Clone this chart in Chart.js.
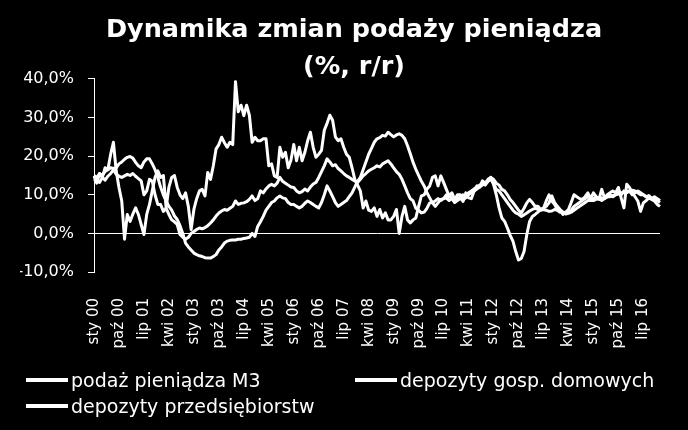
<!DOCTYPE html>
<html lang="pl">
<head>
<meta charset="utf-8">
<script src="https://cdn.jsdelivr.net/npm/chart.js@4.4.1/dist/chart.umd.min.js"></script>
<style>
  html, body { margin: 0; padding: 0; background: #000; }
  #wrap { position: relative; width: 688px; height: 430px; }
  #legenda { position: absolute; left: 0; top: 0; width: 688px; height: 430px; pointer-events: none;
             font-family: "DejaVu Sans", sans-serif; font-size: 19px; color: #fff; }
  .poz { position: absolute; display: flex; align-items: center; white-space: nowrap; }
  .kreska { display: inline-block; width: 42px; height: 4px; background: #fff; margin-right: 3px; }
</style>
</head>
<body>
<div id="wrap">
  <canvas id="wykres" width="688" height="430"></canvas>
  <div id="legenda"></div>
</div>
<script>
// miesiące (etykiety osi X)
const miesiace = ['sty', 'lut', 'mar', 'kwi', 'maj', 'cze', 'lip', 'sie', 'wrz', 'paź', 'lis', 'gru'];
const rokStart = 2000;
const liczbaMiesiecy = 205; // sty 00 - sty 17

// podaż pieniądza M3, % r/r
const podazM3 = [
  13.5, 14.0, 13.2, 14.5, 13.8, 14.8, 15.5, 16.5, 15.3, 14.8, 14.5, 14.9,
  15.3, 15.0, 15.5, 14.8, 14.2, 13.6, 10.0, 11.0, 14.0, 13.5, 10.0, 7.5,
  7.5, 5.7, 6.5, 4.9, 3.5, 3.0, 2.3, -0.3, -1.0, -1.5, -1.0, 0.0,
  0.5, 1.0, 1.4, 1.2, 1.5, 2.0, 2.7, 3.5, 4.5, 5.3, 5.8, 6.2,
  6.0, 6.5, 7.0, 8.4, 7.5, 7.8, 7.9, 8.2, 8.8, 9.7, 8.5, 9.0,
  11.0, 10.5, 11.5, 12.3, 12.7, 12.3, 13.0, 14.5, 13.5, 13.0, 12.5, 12.0,
  11.9, 11.0, 10.5, 10.8, 11.5, 11.0, 12.0, 12.8, 13.2, 14.5, 16.0, 17.5,
  19.3, 18.5, 17.5, 17.8, 16.8, 16.2, 15.5, 14.9, 14.5, 14.0, 13.6, 13.2,
  14.0, 14.9, 15.5, 16.2, 16.6, 17.0, 17.5, 17.2, 18.0, 18.4, 18.8, 18.0,
  17.0, 16.0, 15.3, 14.0, 12.3, 10.5, 9.0, 8.4, 6.5, 6.0, 5.3, 5.5,
  6.5, 7.9, 8.0, 8.4, 9.0, 8.5, 9.0, 10.0, 9.5, 9.2, 8.8, 9.0,
  9.5, 10.0, 9.2, 10.5, 11.0, 11.5, 12.0, 12.5, 13.0, 12.5, 13.5, 14.5,
  14.0, 13.0, 12.5, 11.4, 11.0, 10.0, 8.8, 8.0, 7.0, 6.0, 5.3, 6.5,
  7.9, 8.8, 8.0, 7.0, 7.0, 6.2, 6.5, 7.0, 7.9, 9.7, 8.0, 7.0,
  6.2, 5.5, 5.3, 5.5, 6.0, 7.0, 7.5, 8.0, 8.5, 9.0, 9.5, 9.0,
  9.0, 9.5, 9.0, 8.5, 9.0, 9.5, 10.0, 9.5, 10.0, 10.5, 10.0, 11.0,
  10.5, 11.0, 10.0, 10.5, 11.0, 10.5, 10.0, 9.5, 9.8, 9.0, 9.5, 9.0,
  8.5
];

// depozyty gospodarstw domowych, % r/r
const depozytyGosp = [
  15.0, 14.5, 15.5, 15.0, 16.0, 16.5, 17.0, 16.8, 17.0, 18.0, 18.5, 19.2,
  19.7, 19.9, 19.5, 18.4, 17.5, 17.0, 18.5, 19.3, 19.3, 18.0, 16.5, 14.5,
  12.0, 10.0, 8.4, 7.0, 6.0, 4.5, 3.6, 2.0, 0.0, -2.5, -3.5, -4.3,
  -5.1, -5.5, -5.8, -6.0, -6.3, -6.4, -6.4, -6.0, -5.5, -4.3, -3.5, -2.5,
  -2.0, -1.8, -1.7, -1.7, -1.5, -1.5, -1.3, -1.2, -1.0, 0.0, -0.8, 1.8,
  3.0, 4.4, 6.0, 7.0, 8.0, 8.4, 9.2, 9.7, 9.2, 9.0, 8.0, 7.5,
  7.5, 7.0, 6.6, 7.0, 7.8, 8.4, 8.0, 7.5, 7.0, 6.6, 8.0, 10.0,
  12.3, 11.0, 9.5, 8.0, 7.0, 7.5, 8.0, 8.5, 9.5, 10.5, 12.0, 13.5,
  14.5, 16.5, 18.5, 20.5, 22.0, 23.6, 24.5, 24.8, 25.4, 25.2, 26.2, 25.6,
  25.0, 25.5, 25.8, 25.4, 24.5, 22.7, 20.6, 18.4, 16.6, 15.0, 13.5, 12.3,
  10.5, 9.2, 7.9, 7.0, 7.9, 8.8, 9.0, 9.2, 8.5, 9.0, 8.0, 8.5,
  9.0, 8.5, 9.5, 10.0, 10.5, 11.0, 11.5, 12.0, 12.5, 13.0, 13.5, 14.0,
  13.0, 11.4, 11.0, 10.0, 9.0, 8.0, 7.0, 6.0, 5.3, 5.0, 4.4, 4.8,
  5.3, 5.8, 6.2, 6.5, 6.2, 6.0, 6.2, 6.0, 5.7, 5.8, 6.2, 6.0,
  5.5, 5.5, 5.0, 5.2, 5.5, 6.0, 6.5, 7.0, 7.5, 8.0, 8.5, 8.5,
  8.5, 8.8, 9.0, 9.2, 9.0, 9.5, 9.5, 9.8, 10.0, 10.2, 10.5, 10.5,
  10.8, 11.0, 11.2, 11.0, 10.5, 10.0, 10.0, 9.5, 9.5, 9.2, 9.0, 8.5,
  8.0
];

// depozyty przedsiębiorstw, % r/r
const depozytyPrzeds = [
  14.9, 13.0, 15.5, 14.5, 17.0, 16.5, 20.5, 23.6, 16.2, 11.9, 8.4, -1.5,
  4.9, 3.1, 5.0, 6.6, 4.9, 2.3, -0.3, 4.9, 7.5, 11.0, 14.5, 16.2,
  14.5, 15.0, 6.6, 12.0, 14.5, 15.0, 11.9, 10.0, 9.0, 10.5, 7.0, 1.0,
  6.2, 9.0, 11.0, 11.4, 9.7, 15.8, 14.0, 17.5, 21.9, 23.0, 24.9, 23.5,
  22.3, 23.6, 23.0, 39.3, 31.5, 33.2, 30.5, 33.2, 30.6, 23.6, 24.9, 24.0,
  24.0, 24.5, 24.5, 17.5, 18.0, 14.9, 14.5, 22.3, 19.7, 21.0, 17.0, 19.0,
  23.0, 18.8, 22.3, 18.8, 21.0, 24.0, 26.2, 22.3, 19.7, 20.5, 21.5, 26.7,
  28.5, 30.6, 29.3, 25.0, 24.0, 24.5, 22.3, 20.5, 19.7, 17.0, 14.0, 12.5,
  11.0, 6.6, 8.4, 6.0, 5.7, 6.6, 4.4, 6.2, 4.0, 5.3, 3.5, 3.5,
  4.4, 6.2, 0.0, 4.4, 7.0, 3.5, 2.7, 3.5, 4.0, 7.0, 9.7, 10.0,
  11.5, 12.3, 14.5, 14.9, 12.3, 14.9, 13.2, 11.4, 9.7, 10.5, 8.8, 10.0,
  10.0, 8.3, 10.5, 9.2, 9.0, 11.0, 12.3, 12.0, 13.6, 13.0, 14.0, 14.5,
  12.7, 10.0, 6.6, 4.0, 3.1, 1.4, -0.5, -2.0, -4.7, -6.9, -6.5, -4.7,
  -0.3, 3.1, 4.4, 4.9, 5.5, 6.2, 6.5, 8.4, 10.0, 8.4, 7.5, 6.2,
  6.0, 4.9, 5.5, 6.2, 8.0, 10.0, 9.5, 9.0, 8.8, 9.5, 10.5, 9.0,
  10.5, 9.5, 8.8, 11.4, 9.2, 10.0, 10.5, 11.0, 10.5, 11.9, 9.2, 6.6,
  12.7, 11.9, 10.5, 9.5, 8.4, 5.7, 7.9, 8.5, 9.2, 8.8, 8.4, 7.5,
  7.0
];

const nazwySerii = ['podaż pieniądza M3', 'depozyty gosp. domowych', 'depozyty przedsiębiorstw'];
const krokEtykiet = 9; // co 9 miesięcy

// etykiety "sty 00", "lut 00", ...
const etykiety = [];
for (let i = 0; i < liczbaMiesiecy; i++) {
  const rok = (rokStart + Math.floor(i / 12)) % 100;
  etykiety.push(miesiace[i % 12] + ' ' + String(rok).padStart(2, '0'));
}

Chart.defaults.font.family = '"DejaVu Sans", sans-serif';
Chart.defaults.color = '#fff';

function seria(label, data) {
  return {
    label: label,
    data: data,
    borderColor: '#fff',
    backgroundColor: '#fff',
    borderWidth: 3,
    pointRadius: 0,
    tension: 0,
    borderJoinStyle: 'round'
  };
}

const wykres = new Chart(document.getElementById('wykres').getContext('2d'), {
  type: 'line',
  data: {
    labels: etykiety,
    datasets: [
      seria(nazwySerii[0], podazM3),
      seria(nazwySerii[1], depozytyGosp),
      seria(nazwySerii[2], depozytyPrzeds)
    ]
  },
  options: {
    responsive: false,
    animation: false,
    layout: { padding: { left: 20, right: 0, top: 0, bottom: 58 } },
    plugins: {
      legend: { display: false },
      tooltip: { enabled: false },
      title: {
        display: true,
        text: ['Dynamika zmian podaży pieniądza', '(%, r/r)'],
        color: '#fff',
        font: { size: 25.5, weight: 'bold', lineHeight: 1.45 },
        padding: { top: 12, bottom: -7 }
      }
    },
    scales: {
      x: {
        grid: { display: false },
        border: { display: false },
        afterFit: function(scale) { scale.height = 100; },
        ticks: {
          autoSkip: false,
          maxRotation: 90,
          minRotation: 90,
          padding: 18,
          color: '#fff',
          font: { size: 15 },
          callback: function(value, index) {
            return index % krokEtykiet === 0 ? this.getLabelForValue(value) : null;
          }
        }
      },
      y: {
        min: -10,
        max: 40,
        afterFit: function(scale) { scale.width = 74; },
        border: { display: true, color: '#fff', width: 1 },
        grid: {
          drawOnChartArea: true,
          color: ctx => (ctx.tick && ctx.tick.value === 0 ? '#fff' : 'rgba(0,0,0,0)'),
          tickColor: '#fff',
          tickLength: 6,
          lineWidth: 1
        },
        ticks: {
          stepSize: 10,
          padding: 14,
          color: '#fff',
          font: { size: 16 },
          callback: v => v.toFixed(1).replace('.', ',') + '%'
        }
      },
      // pusty margines po prawej stronie obszaru wykresu
      prawy: {
        position: 'right',
        display: true,
        grid: { display: false },
        border: { display: false },
        ticks: { display: false },
        afterFit: function(scale) { scale.width = 28; }
      }
    }
  }
});

// legenda HTML z nazw serii
const pozycje = [[26, 381], [355, 381], [26, 407]];
const legenda = document.getElementById('legenda');
wykres.data.datasets.forEach((ds, i) => {
  const el = document.createElement('div');
  el.className = 'poz';
  el.style.left = pozycje[i][0] + 'px';
  el.style.top = (pozycje[i][1] - 12) + 'px';
  el.innerHTML = '<span class="kreska"></span><span>' + ds.label + '</span>';
  legenda.appendChild(el);
});
</script>
</body>
</html>
